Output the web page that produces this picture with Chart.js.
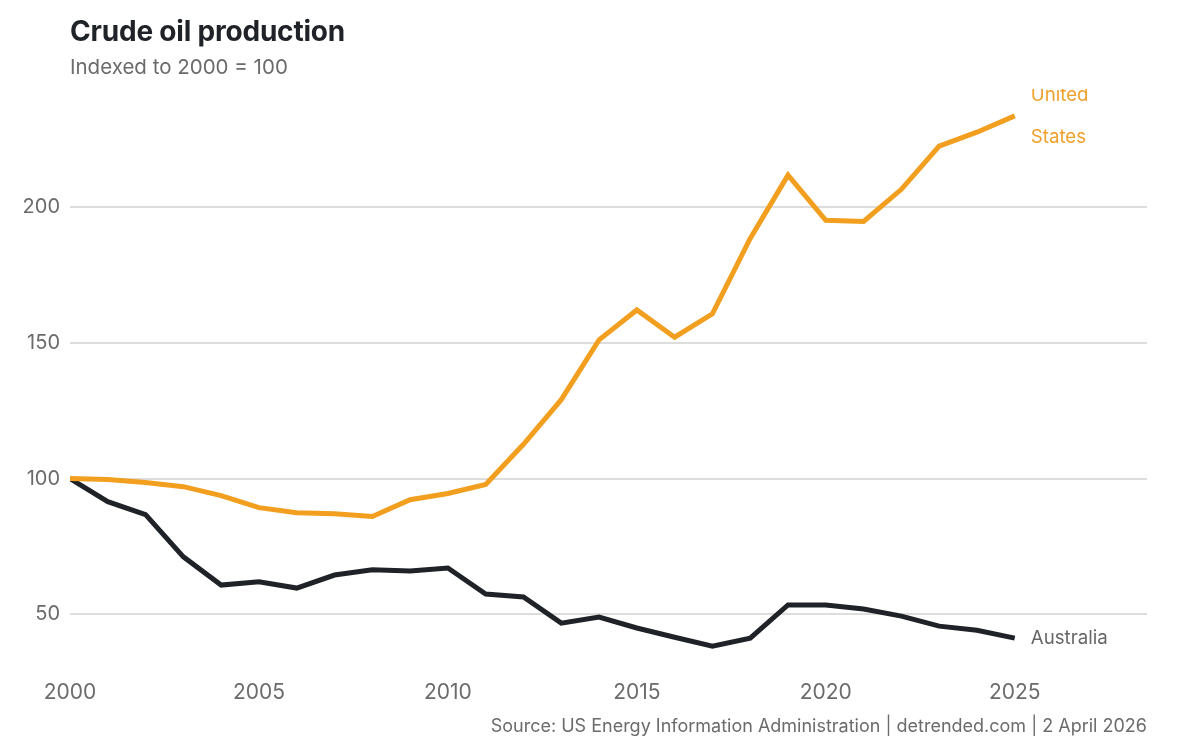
<!DOCTYPE html>
<html>
<head>
<meta charset="utf-8">
<script src="https://cdn.jsdelivr.net/npm/chart.js@4"></script>
<style>
  html, body { margin: 0; padding: 0; background: #ffffff; }
  #wrap { position: relative; width: 1200px; height: 750px; }
  canvas { position: absolute; left: 0; top: 0; }
  .t { position: absolute; font-family: Inter, "Noto Sans", sans-serif; white-space: nowrap; }
  #title { left: 70px; top: 14px; font-size: 28px; font-weight: 700; color: #1f2328; letter-spacing: -0.2px; }
  #subtitle { left: 70px; top: 54px; font-size: 20.5px; color: #6b6b6b; }
  #source { right: 53px; top: 715px; font-size: 18px; color: #6b6b6b; }
</style>
</head>
<body>
<div id="wrap">
  <canvas id="c" width="1200" height="750"></canvas>
  <div class="t" id="title">Crude oil production</div>
  <div class="t" id="subtitle">Indexed to 2000 = 100</div>
  <div class="t" id="source">Source: US Energy Information Administration | detrended.com | 2 April 2026</div>
</div>
<script>
const years = [2000,2001,2002,2003,2004,2005,2006,2007,2008,2009,2010,2011,2012,2013,2014,2015,2016,2017,2018,2019,2020,2021,2022,2023,2024,2025];
const unitedStates = [100,99.6,98.5,97,93.7,89.3,87.4,87,86,92.2,94.5,97.8,112.6,129,151,162,152,160.6,188.3,211.6,195,194.6,206.4,222.3,227.4,233.4];
const australia = [100,91.5,86.7,71.2,60.8,62,59.7,64.5,66.4,66,67.1,57.5,56.4,46.8,49,45,41.6,38.3,41.3,53.5,53.5,52,49.4,45.7,44.2,41.3];
const xTicks = [2000,2005,2010,2015,2020,2025];
const yTicks = [50,100,150,200];
const seriesNames = [["United","States"],["Australia"]];

const US_COLOR = '#f29e1f';
const AU_COLOR = '#1f2328';
const FONT = 'Inter, "Noto Sans", sans-serif';

const endLabels = {
  id: 'endLabels',
  afterDatasetsDraw(chart) {
    const ctx = chart.ctx;
    const area = chart.chartArea;
    ctx.save();
    ctx.beginPath();
    ctx.rect(area.left, area.top, area.right - area.left, area.bottom - area.top);
    ctx.clip();
    ctx.font = '18.7px ' + FONT;
    ctx.textAlign = 'left';
    ctx.textBaseline = 'middle';
    const colors = ['#f0a02c', '#666666'];
    chart.data.datasets.forEach((ds, i) => {
      const meta = chart.getDatasetMeta(i);
      const last = meta.data[meta.data.length - 1];
      const lines = seriesNames[i];
      const lh = 42;
      const startY = last.y - (lines.length - 1) * lh / 2;
      ctx.fillStyle = colors[i];
      lines.forEach((ln, k) => ctx.fillText(ln, last.x + 16, startY + k * lh));
    });
    ctx.restore();
  }
};

new Chart(document.getElementById('c'), {
  type: 'line',
  data: {
    datasets: [
      { label: 'United States', data: years.map((y, i) => ({x: y, y: unitedStates[i]})), borderColor: US_COLOR, borderWidth: 5, pointRadius: 0, tension: 0, fill: false },
      { label: 'Australia', data: years.map((y, i) => ({x: y, y: australia[i]})), borderColor: AU_COLOR, borderWidth: 5, pointRadius: 0, tension: 0, fill: false }
    ]
  },
  options: {
    responsive: false,
    animation: false,
    devicePixelRatio: 1,
    layout: { padding: { top: 89, right: 53, bottom: 41, left: 0 } },
    plugins: { legend: { display: false }, tooltip: { enabled: false } },
    scales: {
      x: {
        type: 'linear',
        min: 2000, max: 2028.5,
        grid: { display: false },
        border: { display: false },
        afterBuildTicks: s => { s.ticks = xTicks.map(v => ({value: v})); },
        ticks: { padding: 3.5, color: '#6b6b6b', font: { family: FONT, size: 21 }, callback: v => String(v), maxRotation: 0 }
      },
      y: {
        min: 30, max: 243.3,
        grid: { color: '#dddddd', lineWidth: 2, drawTicks: false },
        border: { display: false },
        afterBuildTicks: s => { s.ticks = yTicks.map(v => ({value: v})); },
        afterFit: s => { s.width = 70; },
        ticks: { padding: 10, color: '#6b6b6b', font: { family: FONT, size: 20 }, callback: v => String(v) }
      }
    }
  },
  plugins: [endLabels]
});
</script>
</body>
</html>
